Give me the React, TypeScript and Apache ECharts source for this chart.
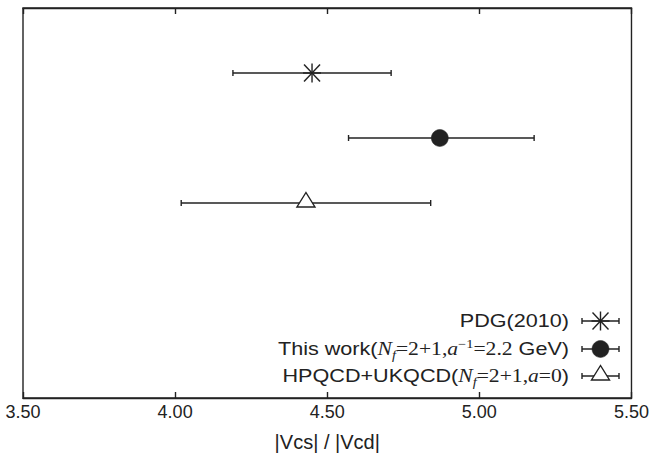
import React, { useEffect, useRef } from "react";
import * as echarts from "echarts";

// ---- data ----
const rowNames = ["PDG(2010)", "This work", "HPQCD+UKQCD"];
const centers = [4.45, 4.87, 4.43];
const lows = [4.19, 4.57, 4.02];
const highs = [4.71, 5.18, 4.84];
const rowPos = [1, 2, 3];
const markerKinds = ["star", "circle", "triangle"];
const xMin = 3.5;
const xMax = 5.5;
const xStep = 0.5;
const xTitle = "|Vcs| / |Vcd|";
const legendTexts = [
  "{s|PDG(2010)}",
  "{s|This work(}{i|N}{sub|f}{r|=2+1,}{i|a}{sup|\u22121}{r|=2.2}{s| GeV)}",
  "{s|HPQCD+UKQCD(}{i|N}{sub|f}{r|=2+1,}{i|a}{r|=0}{s|)}",
];

const INK = "#222";
const LW = 1.4;

function markerShapes(kind: string, cx: number, cy: number): any[] {
  const ls = { stroke: INK, lineWidth: LW, fill: "none" };
  if (kind === "star") {
    return [
      { type: "line", shape: { x1: cx, y1: cy - 9.5, x2: cx, y2: cy + 9.5 }, style: ls },
      { type: "line", shape: { x1: cx - 8, y1: cy - 8.5, x2: cx + 8, y2: cy + 8.5 }, style: ls },
      { type: "line", shape: { x1: cx - 8, y1: cy + 8.5, x2: cx + 8, y2: cy - 8.5 }, style: ls },
      { type: "line", shape: { x1: cx - 9, y1: cy, x2: cx + 9, y2: cy }, style: ls },
    ];
  }
  if (kind === "circle") {
    return [{ type: "circle", shape: { cx, cy, r: 8.5 }, style: { fill: INK, stroke: INK, lineWidth: 0.5 } }];
  }
  return [
    {
      type: "polygon",
      shape: { points: [[cx, cy - 10.5], [cx - 9, cy + 4], [cx + 9, cy + 4]] },
      style: { fill: "#fff", stroke: INK, lineWidth: LW },
    },
  ];
}

function errorBar(x1: number, x2: number, y: number): any[] {
  const ls = { stroke: INK, lineWidth: LW };
  return [
    { type: "line", shape: { x1, y1: y, x2, y2: y }, style: ls },
    { type: "line", shape: { x1, y1: y - 3, x2: x1, y2: y + 3 }, style: ls },
    { type: "line", shape: { x1: x2, y1: y - 3, x2, y2: y + 3 }, style: ls },
  ];
}

export default function App() {
  const ref = useRef<HTMLDivElement>(null);
  useEffect(() => {
    if (!ref.current) return;
    const chart = echarts.init(ref.current, null, { renderer: "svg" });
    const data = centers.map((c, i) => [c, lows[i], highs[i], rowPos[i]]);

    const legendX = 569;
    const legendYs = [321, 349, 376];
    const iconL = 582;
    const iconR = 619;
    const iconC = 600.5;
    const rich = {
      s: { fontFamily: "Liberation Sans", fontSize: 18, fill: INK },
      i: { fontFamily: "Liberation Serif", fontStyle: "italic", fontSize: 18, fill: INK },
      r: { fontFamily: "Liberation Serif", fontSize: 18, fill: INK },
      sub: { fontFamily: "Liberation Serif", fontStyle: "italic", fontSize: 12, fill: INK, padding: [12, 0, 0, 0] },
      sup: { fontFamily: "Liberation Serif", fontSize: 12, fill: INK, padding: [0, 0, 10, 0] },
    };
    const legendGraphics: any[] = [];
    legendTexts.forEach((t, i) => {
      const y = legendYs[i];
      legendGraphics.push({
        type: "text",
        x: legendX,
        y,
        scaleX: 1.2,
        style: { text: t, align: "right", verticalAlign: "middle", rich, fill: INK },
      });
      legendGraphics.push({
        type: "group",
        children: [...errorBar(iconL, iconR, y), ...markerShapes(markerKinds[i], iconC, y)],
      });
    });

    chart.setOption({
      animation: false,
      backgroundColor: "#fff",
      grid: {
        left: 23,
        right: 18,
        top: 8,
        bottom: 67,
        show: true,
        borderColor: INK,
        borderWidth: LW,
        backgroundColor: "transparent",
      },
      xAxis: [
        {
          type: "value",
          min: xMin,
          max: xMax,
          interval: xStep,
          position: "bottom",
          axisLine: { show: true, onZero: false, lineStyle: { color: INK, width: LW } },
          axisTick: { show: true, inside: true, length: 6, lineStyle: { color: INK, width: LW } },
          splitLine: { show: false },
          axisLabel: {
            formatter: (v: number) => v.toFixed(2),
            fontFamily: "Liberation Sans",
            fontSize: 18,
            color: INK,
            margin: 5,
          },
          name: xTitle,
          nameLocation: "middle",
          nameGap: 34,
          nameTextStyle: { fontFamily: "Liberation Sans", fontSize: 20, color: INK },
        },
        {
          type: "value",
          min: xMin,
          max: xMax,
          interval: xStep,
          position: "top",
          axisLine: { show: true, onZero: false, lineStyle: { color: INK, width: LW } },
          axisTick: { show: true, inside: true, length: 6, lineStyle: { color: INK, width: LW } },
          splitLine: { show: false },
          axisLabel: { show: false },
        },
      ],
      yAxis: {
        type: "value",
        min: 0,
        max: 6,
        inverse: true,
        show: false,
        splitLine: { show: false },
      },
      series: [
        {
          type: "custom",
          name: "rows",
          xAxisIndex: 0,
          data,
          renderItem: (params: any, api: any) => {
            const y = api.value(3);
            const c = api.coord([api.value(0), y]);
            const lo = api.coord([api.value(1), y]);
            const hi = api.coord([api.value(2), y]);
            const kind = markerKinds[params.dataIndex];
            return {
              type: "group",
              children: [...errorBar(lo[0], hi[0], c[1]), ...markerShapes(kind, c[0], c[1])],
            };
          },
        },
      ],
      graphic: legendGraphics,
    });
    return () => chart.dispose();
  }, []);
  return (
    <div
      ref={ref}
      style={{ position: "fixed", left: 0, top: 0, width: 652, height: 465, background: "#fff" }}
    />
  );
}
